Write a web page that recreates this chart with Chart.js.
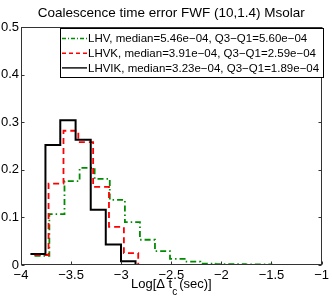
<!DOCTYPE html>
<html>
<head>
<meta charset="utf-8">
<script src="https://cdn.jsdelivr.net/npm/chart.js@4.4.1/dist/chart.umd.min.js"></script>
<style>
    html, body { margin: 0; padding: 0; background: #fff; }
</style>
</head>
<body>
<canvas id="chart-ct" width="332" height="299"></canvas>
<script>
const seriesNames = [
    "LHV, median=5.46e\u221204, Q3\u2212Q1=5.60e\u221204",
    "LHVK, median=3.91e\u221204, Q3\u2212Q1=2.59e\u221204",
    "LHVIK, median=3.23e\u221204, Q3\u2212Q1=1.89e\u221204",
];

// bin edges (log10 seconds) and bin heights
const edgesLHV = [-3.865, -3.717, -3.566, -3.415, -3.265, -3.114, -2.963, -2.813, -2.663, -2.513, -2.357, -2.21, -2.06, -1.91, -1.76, -1.61, -1.5];
const valuesLHV = [0.019, 0.107, 0.176, 0.204, 0.181, 0.137, 0.090, 0.053, 0.029, 0.013, 0.007, 0.003, 0.002, 0.002, 0.001, 0.001];

const edgesLHVK = [-3.865, -3.725, -3.576, -3.428, -3.28, -3.122, -2.973, -2.83];
const valuesLHVK = [0.021, 0.171, 0.282, 0.258, 0.164, 0.080, 0.025];

const edgesLHVIK = [-3.906, -3.756, -3.608, -3.455, -3.304, -3.154, -3.002, -2.857];
const valuesLHVIK = [0.023, 0.252, 0.304, 0.263, 0.116, 0.043, 0.008];

const xTicks = [-4, -3.5, -3, -2.5, -2, -1.5, -1];
const yTicks = [0, 0.1, 0.2, 0.3, 0.4, 0.5];

const FONT = "'Liberation Sans', Arial, Helvetica, sans-serif";

function steps(edges, values) {
    const pts = values.map((v, i) => ({ x: edges[i], y: v }));
    pts.push({ x: edges[edges.length - 1], y: 0 });
    return pts;
}

function minus(s) {
    return s.replace("-", "\u2212");
}

// legend samples are thinner than the plotted lines
const legendDash = [[4, 2, 1, 2], [4, 3], []];

// box, inside ticks, title, x label and legend, the matlab way
const matlabFrame = {
    id: "matlabFrame",
    afterDatasetsDraw(chart) {
        const ctx = chart.ctx;
        const a = chart.chartArea;
        const xs = chart.scales.x;
        const ys = chart.scales.y;
        const L = Math.round(a.left) + 0.5, R = Math.round(a.right) - 0.5;
        const T = Math.round(a.top) + 0.5, B = Math.round(a.bottom) - 0.5;

        ctx.save();
        ctx.strokeStyle = "#333";
        ctx.lineWidth = 1;
        ctx.setLineDash([]);
        ctx.strokeRect(L, T, R - L, B - T);

        ctx.beginPath();
        xTicks.forEach((t) => {
            const px = Math.round(xs.getPixelForValue(t)) + 0.5;
            ctx.moveTo(px, B); ctx.lineTo(px, B - 3);
            ctx.moveTo(px, T); ctx.lineTo(px, T + 3);
        });
        yTicks.forEach((t) => {
            const py = Math.round(ys.getPixelForValue(t)) + 0.5;
            ctx.moveTo(L, py); ctx.lineTo(L + 3, py);
            ctx.moveTo(R, py); ctx.lineTo(R - 3, py);
        });
        ctx.stroke();

        // title
        ctx.fillStyle = "#000";
        ctx.font = "13.5px " + FONT;
        ctx.textAlign = "center";
        ctx.textBaseline = "alphabetic";
        ctx.fillText("Coalescence time error FWF (10,1.4) Msolar", (a.left + a.right) / 2, 17);

        // x label with subscript
        const p1 = "Log[\u0394 t", p2 = "c", p3 = "(sec)]";
        ctx.font = "13px " + FONT;
        const w1 = ctx.measureText(p1).width, w3 = ctx.measureText(p3).width;
        ctx.font = "10px " + FONT;
        const w2 = ctx.measureText(p2).width + 2;
        let x0 = (a.left + a.right) / 2 - (w1 + w2 + w3) / 2;
        ctx.textAlign = "left";
        ctx.font = "13px " + FONT;
        ctx.fillText(p1, x0, 288);
        ctx.font = "10px " + FONT;
        ctx.fillText(p2, x0 + w1, 295);
        ctx.font = "13px " + FONT;
        ctx.fillText(p3, x0 + w1 + w2, 288);

        // legend
        const lx = 60.5, ly = 28.5, lw = 263, lh = 49;
        ctx.fillStyle = "#fff";
        ctx.fillRect(lx, ly, lw, lh);
        ctx.strokeStyle = "#000";
        ctx.lineWidth = 1;
        ctx.strokeRect(lx, ly, lw, lh);
        ctx.font = "11.5px " + FONT;
        ctx.textBaseline = "middle";
        chart.data.datasets.forEach((ds, i) => {
            const yy = 38.5 + i * 14.7;
            ctx.strokeStyle = ds.borderColor;
            ctx.lineWidth = 1.4;
            ctx.setLineDash(legendDash[i]);
            ctx.beginPath();
            ctx.moveTo(62, yy);
            ctx.lineTo(87, yy);
            ctx.stroke();
            ctx.fillStyle = "#000";
            ctx.fillText(ds.label, 88, yy + 0.5);
        });
        ctx.restore();
    },
};

const chartCt = document.getElementById("chart-ct");
new Chart(chartCt, {
    type: "line",
    data: {
        datasets: [
            {
                label: seriesNames[0],
                data: steps(edgesLHV, valuesLHV),
                borderColor: "rgb(0, 140, 0)",
                borderWidth: 1.8,
                borderDash: [6, 3, 1.5, 3],
                order: 3,
            },
            {
                label: seriesNames[1],
                data: steps(edgesLHVK, valuesLHVK),
                borderColor: "rgb(255, 0, 0)",
                borderWidth: 1.8,
                borderDash: [6, 4],
                order: 2,
            },
            {
                label: seriesNames[2],
                data: steps(edgesLHVIK, valuesLHVIK),
                borderColor: "rgb(0, 0, 0)",
                borderWidth: 2,
                order: 1,
            },
        ],
    },
    options: {
        responsive: false,
        animation: false,
        devicePixelRatio: 1,
        layout: { padding: { top: 27, right: 6, left: 0, bottom: 0 } },
        elements: {
            point: { radius: 0 },
            line: { stepped: "before", tension: 0, fill: false, borderCapStyle: "butt" },
        },
        plugins: {
            legend: { display: false },
            title: { display: false },
            tooltip: { enabled: false },
        },
        scales: {
            x: {
                type: "linear",
                min: -4,
                max: -1,
                afterBuildTicks: (s) => { s.ticks = xTicks.map((v) => ({ value: v })); },
                afterFit: (s) => { s.height = 34; },
                grid: { drawOnChartArea: false, drawTicks: false },
                border: { display: false },
                ticks: {
                    color: "#000",
                    padding: 3,
                    maxRotation: 0,
                    font: { family: FONT, size: 13 },
                    callback: (v) => minus(String(v)),
                },
            },
            y: {
                type: "linear",
                min: 0,
                max: 0.5,
                afterBuildTicks: (s) => { s.ticks = yTicks.map((v) => ({ value: v })); },
                afterFit: (s) => { s.width = 21; },
                grid: { drawOnChartArea: false, drawTicks: false },
                border: { display: false },
                ticks: {
                    color: "#000",
                    padding: 2,
                    font: { family: FONT, size: 13 },
                    callback: (v) => (v === 0 ? "0" : v.toFixed(1)),
                },
            },
        },
    },
    plugins: [matlabFrame],
});
</script>
</body>
</html>
